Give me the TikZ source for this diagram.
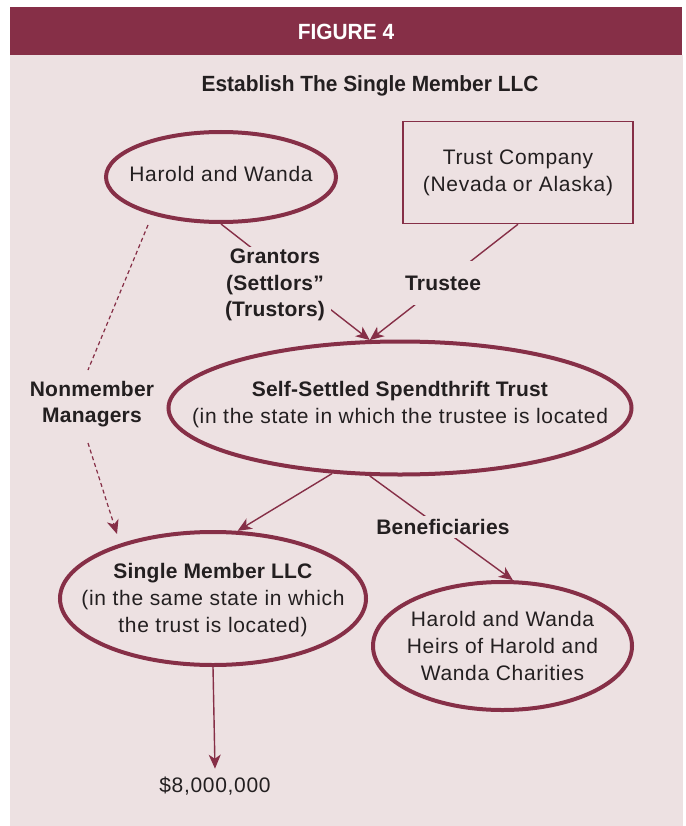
\documentclass[tikz,border=0pt]{standalone}
\usepackage{fontspec}
\setmainfont{Liberation Sans}[LetterSpace=3.3, BoldFeatures={LetterSpace=1}]
\newfontfamily\condfont{Liberation Sans}[FakeStretch=0.95]
\usetikzlibrary{arrows.meta,shapes.geometric}
\definecolor{maroon}{HTML}{862F47}
\definecolor{bgpink}{HTML}{EDE1E2}
\definecolor{ink}{HTML}{231F20}
\begin{document}
\begin{tikzpicture}[x=1pt,y=-1pt,
  ell/.style={draw=maroon, line width=4pt, ellipse, inner sep=0pt},
  boxnode/.style={draw=maroon, line width=1.5pt, rectangle, inner sep=0pt, text=ink, align=center, font=\fontsize{21}{27}\selectfont},
  txt/.style={text=ink, align=center, inner sep=0pt, font=\fontsize{21}{27}\selectfont},
  bl/.style={text=ink, align=center, inner sep=0pt, font=\fontsize{21}{26.5}\selectfont\bfseries},
  lbl/.style={bl, fill=bgpink},
  con/.style={draw=maroon, line width=1.4pt},
  tip/.style={-{Stealth[length=14pt,width=12pt,inset=4pt]}},
  dsh/.style={con, line width=1.2pt, dash pattern=on 4pt off 3pt},
  ttl/.style={font=\condfont\bfseries\fontsize{22}{26}\selectfont, inner sep=0pt}
]
\useasboundingbox (0,0) rectangle (685,826);
\fill[white] (0,0) rectangle (685,826);
\fill[maroon] (10,7) rectangle (682,55);
\fill[bgpink] (10,55) rectangle (683,826);

\node[ttl, text=white] (fig) at (346,32) {FIGURE 4};
\node[ttl, text=ink] (est) at (370,86) {Establish The Single Member LLC};

% shapes
\node[ell, minimum width=230pt, minimum height=90pt] (hw) at (221,177) {};
\node[txt] (hwT) at (221,174) {Harold and Wanda};

\node[boxnode, minimum width=230pt, minimum height=102pt] (tc) at (518,172.5) {Trust Company\\(Nevada or Alaska)};

\node[ell, minimum width=463pt, minimum height=133pt] (tr) at (400,408) {};
\node[txt] (trT) at (400,405) {\textbf{Self-Settled Spendthrift Trust}\\(in the state in which the trustee is located};

\node[ell, minimum width=306pt, minimum height=133pt] (llc) at (213,598.5) {};
\node[txt] (llcT) at (213,600) {\textbf{Single Member LLC}\\(in the same state in which\\the trust is located)};

\node[ell, minimum width=259pt, minimum height=128pt] (ben) at (502.5,646) {};
\node[txt] (benT) at (502.5,646) {Harold and Wanda\\Heirs of Harold and\\Wanda Charities};

\node[txt, inner sep=8pt] (money) at (215,786) {\$8,000,000};

% connectors
\draw[con, tip] (hw.south) -- (tr.114);
\draw[con, tip] (tc.south) -- (tr.114);
\draw[con, tip] (tr.-136) -- (llc.70.5);
\draw[con, tip] (tr.-114) -- (ben.81);
\draw[con, tip] (llc.south) -- (money.north);

\coordinate (d1) at (148,225);
\coordinate (d2) at (88,370);
\coordinate (d3) at (88,443);
\coordinate (d4) at (117,534);
\draw[dsh] (d1) -- (d2);
\draw[dsh, tip] (d3) -- (d4);

% labels
\node[lbl, inner xsep=6pt, inner ysep=2pt] (grant) at (275,285) {Grantors\\(Settlors”\\(Trustors)};
\node[lbl, inner xsep=2pt, inner ysep=15pt] (trustee) at (443,283) {Trustee};
\node[lbl, inner xsep=2pt, inner ysep=3pt] (benef) at (443,527) {Beneficiaries};
\node[bl] (nm) at (92,404) {Nonmember\\Managers};
\end{tikzpicture}
\end{document}
